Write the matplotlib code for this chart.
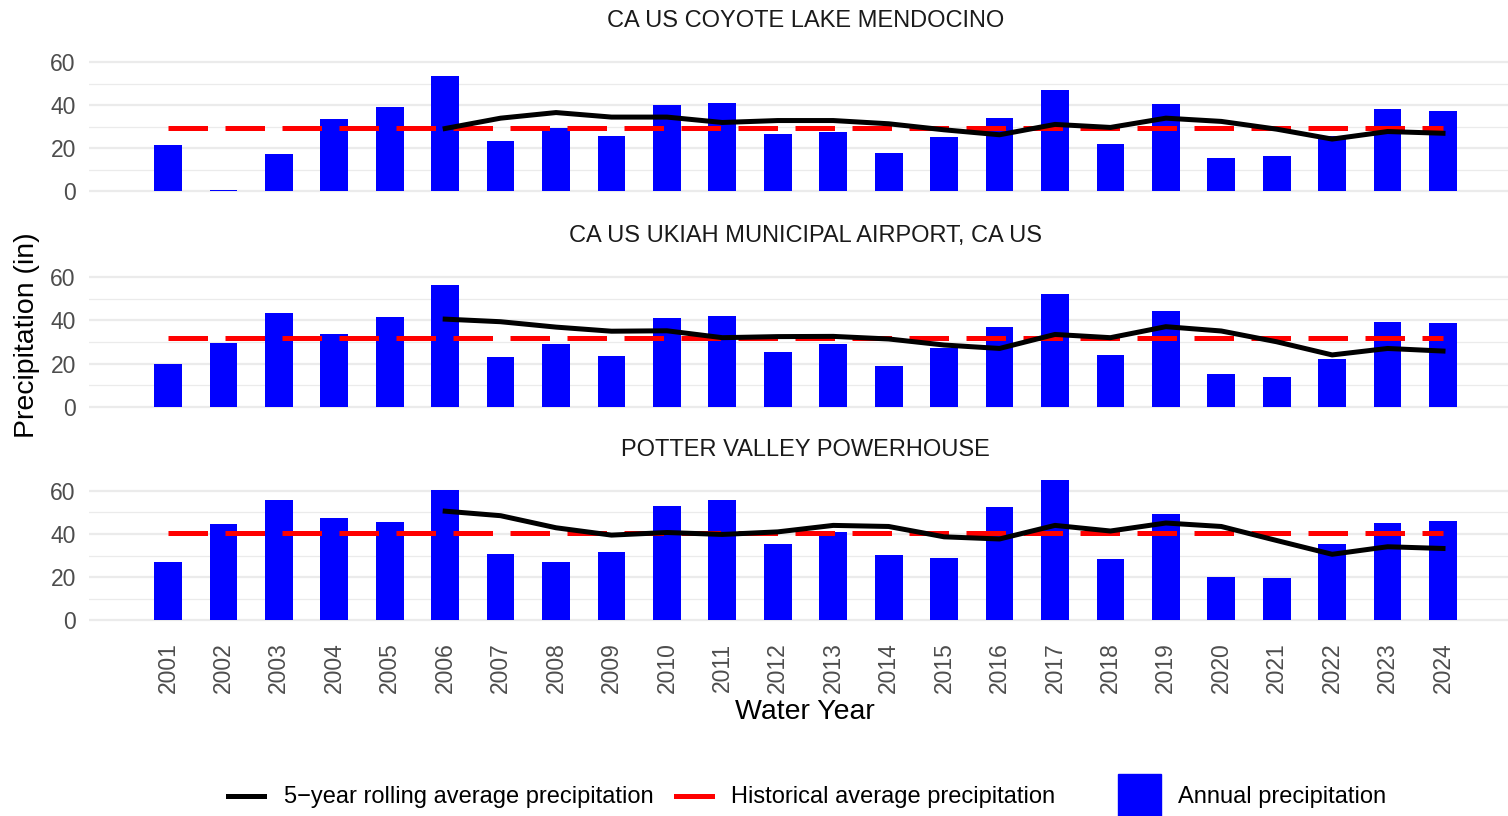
import matplotlib
matplotlib.use("Agg")
import matplotlib.pyplot as plt
from matplotlib.lines import Line2D
from matplotlib.patches import Rectangle
import numpy as np

plt.rcParams['font.family'] = ['Liberation Sans', 'DejaVu Sans']

years = list(range(2001, 2025))
roll_years = list(range(2006, 2025))

stations = ["CA US COYOTE LAKE MENDOCINO",
            "CA US UKIAH MUNICIPAL AIRPORT, CA US",
            "POTTER VALLEY POWERHOUSE"]

coyote_annual = [21.6, 0.5, 17.5, 33.7, 39.3, 53.6, 23.5, 29.5, 25.8, 40.2, 41.1, 26.7,
                 27.7, 17.9, 25.3, 34.2, 47.1, 22.1, 40.6, 15.6, 16.5, 25.8, 38.3, 37.4]
coyote_roll = [29.2, 34.0, 36.6, 34.5, 34.5, 32.0, 32.9, 32.9, 31.4, 28.6, 26.3, 31.1,
               29.7, 34.0, 32.5, 28.9, 24.3, 27.8, 27.0]
coyote_hist = 29.4

ukiah_annual = [19.6, 29.4, 43.3, 33.5, 41.4, 56.3, 22.9, 29.0, 23.4, 41.0, 41.9, 25.2,
                29.0, 18.8, 27.2, 36.9, 52.2, 23.9, 44.2, 15.1, 13.7, 22.1, 39.2, 38.8]
ukiah_roll = [40.6, 39.4, 36.9, 35.0, 35.2, 32.0, 32.5, 32.6, 31.4, 28.6, 27.0, 33.5,
              32.0, 37.1, 35.1, 30.1, 24.0, 27.0, 25.8]
ukiah_hist = 32.0

potter_annual = [27.0, 44.6, 55.7, 47.4, 45.5, 60.3, 30.7, 27.0, 31.6, 52.9, 55.7, 35.2,
                 40.9, 30.2, 28.9, 52.5, 65.0, 28.4, 49.2, 20.1, 19.6, 35.2, 45.1, 46.0]
potter_roll = [50.6, 48.5, 42.9, 39.5, 40.7, 39.8, 41.0, 44.0, 43.5, 38.7, 37.7, 44.0,
               41.4, 45.1, 43.5, 37.0, 30.6, 34.1, 33.3]
potter_hist = 40.6

annual = [coyote_annual, ukiah_annual, potter_annual]
rolling = [coyote_roll, ukiah_roll, potter_roll]
hist = [coyote_hist, ukiah_hist, potter_hist]

legend_labels = ["5\u2212year rolling average precipitation",
                 "Historical average precipitation",
                 "Annual precipitation"]

W, H = 1508, 816
fig = plt.figure(figsize=(W / 100, H / 100), dpi=100)

grid_col = "#EBEBEB"
tick_col = "#4D4D4D"
tops = [44.3, 259.5, 473.1]
ph = 154.2
left, right = 89, 1522

for i, top in enumerate(tops):
    ax = fig.add_axes([left / W, 1 - (top + ph) / H, (right - left) / W, ph / H])
    ax.set_xlim(1999.575, 2025.425)
    ax.set_ylim(-3.25, 68.25)
    for s in ax.spines.values():
        s.set_visible(False)
    ax.set_yticks([0, 20, 40, 60])
    ax.set_yticks([10, 30, 50], minor=True)
    ax.grid(axis="y", which="major", color=grid_col, lw=1.6)
    ax.grid(axis="y", which="minor", color=grid_col, lw=0.9)
    ax.set_axisbelow(True)
    ax.tick_params(axis="y", which="both", length=0, labelsize=16.5,
                   labelcolor=tick_col, pad=9.5)
    ax.set_xticks(years)
    if i == 2:
        ax.set_xticklabels([str(y) for y in years], rotation=90)
        ax.tick_params(axis="x", length=0, labelsize=16.5, labelcolor=tick_col, pad=11)
    else:
        ax.tick_params(axis="x", length=0, labelbottom=False)

    ax.bar(years, annual[i], width=0.5, color="#0000FF", zorder=2)
    ax.plot([years[0], years[-1]], [hist[i], hist[i]], color="#FF0000", lw=3.6,
            linestyle=(0, (7.9, 3.5)), dash_capstyle="butt", zorder=3)
    ax.plot(roll_years, rolling[i], color="black", lw=3.6, zorder=4,
            solid_joinstyle="round")

    ax.annotate(stations[i], xy=(0.5, 1), xycoords="axes fraction",
                xytext=(0, 16.8), textcoords="offset points",
                ha="center", va="center", fontsize=17, color="#1A1A1A")

fig.text(805 / W, 1 - 712 / H, "Water Year", ha="center", va="center", fontsize=20.5)
fig.text(27 / W, 1 - 335 / H, "Precipitation (in)", ha="center", va="center",
         fontsize=20.5, rotation=90)

# legend, drawn by hand to match the layout
ly = 1 - 796 / H
fig.add_artist(Line2D([228 / W, 264 / W], [ly, ly], color="black", lw=3.6,
                      transform=fig.transFigure))
fig.add_artist(Line2D([676 / W, 712 / W], [ly, ly], color="#FF0000", lw=3.6,
                      transform=fig.transFigure))
fig.add_artist(Rectangle((1118 / W, 1 - 817 / H), 43 / W, 43 / H, color="#0000FF",
                         transform=fig.transFigure))
for x, lab in zip([284, 731, 1178], legend_labels):
    fig.text(x / W, ly - 1.5 / H, lab, ha="left", va="center", fontsize=17)

fig.savefig("out.png", dpi=100)
